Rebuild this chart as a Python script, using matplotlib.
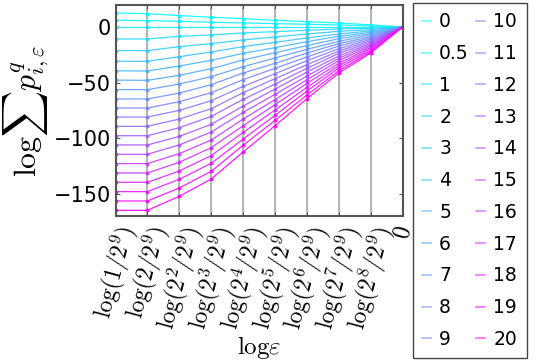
import numpy as np
import matplotlib
matplotlib.use("Agg")
import matplotlib.pyplot as plt
from matplotlib.lines import Line2D

plt.rcParams["mathtext.fontset"] = "cm"

# q values (one curve each)
q_labels = ["0", "0.5", "1", "2", "3", "4", "5", "6", "7", "8", "9", "10",
            "11", "12", "13", "14", "15", "16", "17", "18", "19", "20"]

# box size exponent k: eps = 2^k / 2^9
k_vals = [0, 1, 2, 3, 4, 5, 6, 7, 8, 9]

# log sum p^q, one list per k (q = 0 ... 20)
v_k0 = [12.6, 6.0, 0.0, -10.8, -21.2, -30.8, -39.4, -47.8, -56.3, -64.8, -72.9,
        -81.0, -89.4, -97.8, -106.1, -114.5, -122.9, -131.3, -139.7, -148.1, -156.5, -164.9]
v_k1 = [12.0, 5.7, 0.0, -10.8, -21.3, -30.9, -39.6, -48.0, -56.4, -64.8, -72.9,
        -81.0, -89.4, -97.8, -106.1, -114.5, -122.9, -131.3, -139.7, -148.1, -156.5, -164.9]
v_k2 = [10.2, 5.1, 0.0, -8.4, -17.7, -26.7, -35.1, -43.5, -51.3, -59.4, -67.2,
        -75.0, -82.8, -90.6, -98.4, -106.1, -113.9, -121.7, -129.5, -137.0, -144.8, -152.3]
v_k3 = [8.7, 4.2, 0.0, -7.2, -15.0, -22.5, -30.0, -37.5, -44.7, -51.9, -59.1,
        -66.3, -73.5, -80.4, -87.6, -94.5, -101.7, -108.5, -115.7, -122.6, -129.8, -136.7]
v_k4 = [7.5, 3.6, 0.0, -5.4, -11.7, -17.7, -23.7, -29.7, -35.7, -41.4, -47.4,
        -53.4, -59.1, -65.1, -71.1, -76.8, -82.8, -88.8, -94.8, -100.8, -106.4, -112.4]
v_k5 = [6.0, 3.0, 0.0, -4.2, -9.0, -13.8, -18.6, -23.1, -27.9, -32.7, -37.2,
        -42.0, -46.5, -51.3, -55.8, -60.6, -65.4, -69.9, -74.7, -79.5, -84.0, -88.8]
v_k6 = [4.8, 2.4, 0.0, -3.0, -6.3, -9.9, -13.2, -16.8, -20.1, -23.4, -27.0,
        -30.3, -33.9, -37.2, -40.5, -44.1, -47.4, -50.7, -54.3, -57.6, -61.2, -64.5]
v_k7 = [3.6, 1.8, 0.0, -1.8, -3.9, -6.3, -8.4, -10.5, -12.9, -15.0, -17.1,
        -19.5, -21.6, -23.7, -26.1, -28.2, -30.3, -32.7, -34.8, -36.9, -39.3, -41.4]
v_k8 = [1.8, 0.9, 0.0, -1.2, -2.4, -3.6, -4.8, -6.0, -7.2, -8.7, -9.9,
        -11.1, -12.3, -13.5, -14.7, -15.9, -17.1, -18.3, -19.5, -21.0, -22.2, -23.4]
v_k9 = [0.0] * 22

tick_labels = [r"$\mathrm{log}(1/2^9)$", r"$\mathrm{log}(2/2^9)$"] + \
    [r"$\mathrm{log}(2^%d/2^9)$" % k for k in range(2, 9)] + [r"$0$"]

vals = np.array([v_k0, v_k1, v_k2, v_k3, v_k4, v_k5, v_k6, v_k7, v_k8, v_k9])
x = (np.array(k_vals) - 9) * np.log(2)

fig = plt.figure(figsize=(5.36, 3.63), dpi=100)
ax = fig.add_axes([0.2155, 0.405, 0.5358, 0.582])

cmap = plt.get_cmap("cool")
n = len(q_labels)
handles = []
for i, lab in enumerate(q_labels):
    c = cmap(i / (n - 1))
    ax.plot(x, vals[:, i], "-", marker="o", ms=1.8, lw=0.9, color=c, alpha=0.9)
    handles.append(Line2D([], [], color=c, lw=1.2, alpha=0.6, label=lab))

ax.set_xlim(x[0], x[-1])
ax.set_ylim(-170, 20)
ax.set_xticks(x)
ax.set_xticklabels(tick_labels, rotation=75, fontsize=17)
ax.set_yticks([0, -50, -100, -150])
ax.tick_params(axis="y", labelsize=15)
ax.tick_params(direction="in", top=True, right=True, length=3, color="#555555")
ax.tick_params(axis="x", pad=5)
ax.xaxis.grid(True, color="#888888", lw=1.1, alpha=0.8)
for s in ax.spines.values():
    s.set_color("#555555")
    s.set_linewidth(1.5)

ax.set_xlabel(r"$\mathrm{log}\varepsilon$", fontsize=18, labelpad=1)
ax.set_ylabel(r"$\mathrm{log}\sum p_{i,\varepsilon}^q$", fontsize=23, labelpad=2)

fig.legend(handles=handles, loc="upper left", bbox_to_anchor=(413 / 536, 1 - 3 / 363),
           borderaxespad=0, ncol=2, fontsize=13.5, handlelength=0.45,
           handletextpad=0.45, columnspacing=0.4, labelspacing=0.68,
           borderpad=0.5, fancybox=False, edgecolor="#444444", framealpha=1)

fig.savefig("out.png", dpi=100)
